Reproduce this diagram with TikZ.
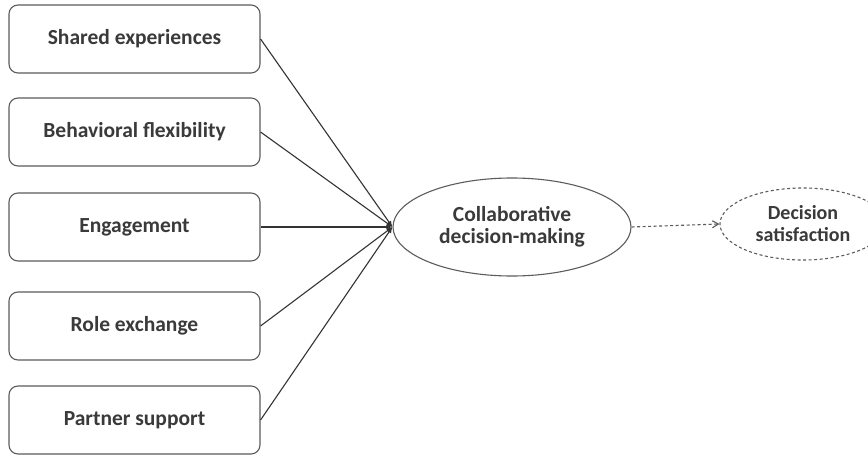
\documentclass[tikz,border=0pt]{standalone}
\usepackage{fontspec}
\setmainfont{Carlito}
\usetikzlibrary{arrows.meta,shapes.geometric}
\definecolor{ln}{HTML}{333333}
\definecolor{tx}{HTML}{3A3A3A}
\begin{document}
\begin{tikzpicture}[x=1pt,y=-1pt,
  factor/.style={draw=ln!80, line width=1.1pt, rounded corners=9pt, minimum width=251pt, minimum height=68pt, inner sep=0pt, font=\fontsize{21.5}{24}\selectfont\bfseries, text=tx},
  link/.style={draw=ln, line width=1.1pt, -{Latex[length=6pt,width=5pt]}},
  construct/.style={ellipse, draw=ln!80, line width=1.1pt, inner sep=0pt, font=\fontsize{21.5}{22}\selectfont\bfseries, text=tx, align=center}
]
\useasboundingbox (0,0) rectangle (868,455);
\fill[white] (0,0) rectangle (868,455);
\node[factor] (f1) at (134.5,39) {Shared experiences};
\node[factor] (f2) at (134.5,132) {Behavioral flexibility};
\node[factor] (f3) at (134.5,227) {Engagement};
\node[factor] (f4) at (134.5,326) {Role exchange};
\node[factor] (f5) at (134.5,420) {Partner support};
\node[construct, minimum width=238pt, minimum height=98pt] (cdm) at (512,227) {Collaborative\\decision-making};
\node[construct, dashed, dash pattern=on 3pt off 2.5pt, minimum width=166pt, minimum height=72pt, font=\fontsize{20}{22}\selectfont\bfseries] (ds) at (803,224) {Decision\\satisfaction};
\coordinate (hub) at (cdm.west);
\foreach \f in {f1,f2,f3,f4,f5}{
  \draw[link] (\f.east) -- (hub);
}
\draw[draw=ln!80, line width=1.1pt, dashed, dash pattern=on 3pt off 2.5pt, -{Straight Barb[length=6pt,width=7pt]}] (cdm.east) -- (ds.west);
\end{tikzpicture}
\end{document}
